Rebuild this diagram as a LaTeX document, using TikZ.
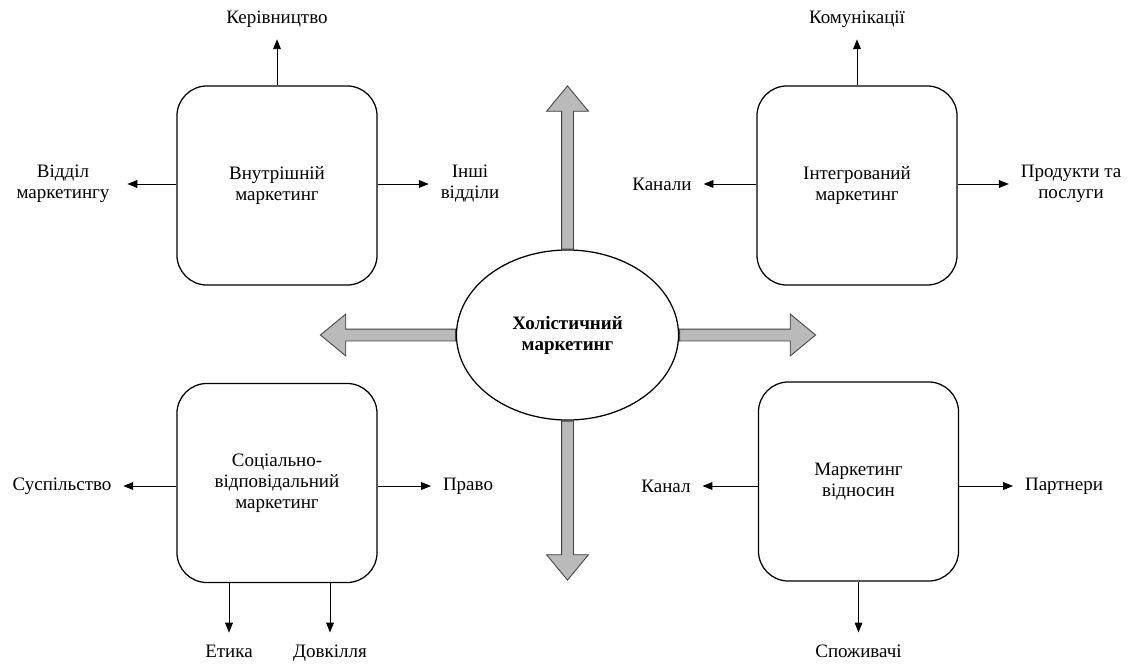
\documentclass[tikz,border=0pt]{standalone}
\usepackage{fontspec}
\setmainfont{Liberation Serif}
\usetikzlibrary{shapes.geometric,shapes.arrows,arrows.meta}

\begin{document}
\begin{tikzpicture}[x=0.025cm,y=-0.025cm,line width=0.6pt,
  font=\fontsize{13.5}{15}\selectfont,
  box/.style={draw,line width=0.9pt,rounded corners=0.75cm,minimum width=5cm,minimum height=4.975cm,align=center,inner sep=0pt},
  hub/.style={draw,ellipse,line width=0.9pt,minimum width=5.55cm,minimum height=4.25cm,inner sep=0pt,align=center,font=\fontsize{13.5}{15}\selectfont\bfseries},
  lbl/.style={align=center,inner sep=0pt,outer sep=0.3cm},
  pointer/.style={-{Triangle[length=7pt,width=5.5pt]}},
  fat/.style={single arrow,draw=black!75,fill=black!27,line width=0.6pt,inner xsep=0pt,inner ysep=0.1375cm,single arrow head extend=0.375cm,single arrow tip angle=79,anchor=tail}]
\useasboundingbox (0,0) rectangle (1129,664);

\node[hub] (hol) at (567.5,335) {Холістичний\\маркетинг}; % centre
\node[fat,rotate=90,minimum height=4.075cm] (fup) at (hol.north) {}; % up
\node[fat,rotate=-90,minimum height=3.975cm] (fdown) at (hol.south) {}; % down
\node[fat,rotate=180,minimum height=3.375cm] (fleft) at (hol.west) {}; % left
\node[fat,minimum height=3.4cm] (fright) at (hol.east) {}; % right

\node[box] (b1) at (277,185.5) {Внутрішній\\маркетинг}; % top left
\node[box] (b2) at (857,185.5) {Інтегрований\\маркетинг}; % top right
\node[box] (b3) at (277,483) {Соціально-\\відповідальний\\маркетинг}; % bottom left
\node[box] (b4) at (858.5,481.5) {Маркетинг\\відносин}; % bottom right

\node[lbl] (ker) at (277,19) {Керівництво};
\node[lbl,outer sep=0.45cm] (vm) at (63,184) {Відділ\\маркетингу};
\node[lbl] (inshi) at (470,184) {Інші\\відділи};
\node[lbl] (kom) at (857,19) {Комунікації};
\node[lbl] (kanaly) at (662,184) {Канали};
\node[lbl] (prod) at (1071,184) {Продукти та\\послуги};
\node[lbl] (susp) at (62,486) {Суспільство};
\node[lbl] (pravo) at (468,486) {Право};
\node[lbl,anchor=base] (etyka) at (229,657) {Етика};
\node[lbl,anchor=base] (dovk) at (330,657) {Довкілля};
\node[lbl] (kanal) at (666,486) {Канал};
\node[lbl] (partn) at (1064,486) {Партнери};
\node[lbl,anchor=base] (spoz) at (858.5,657) {Споживачі};

\draw[pointer] (b1.north) -- (ker); % D1
\draw[pointer] (b1.west |- vm) -- (vm);
\draw[pointer] (b1.east |- inshi) -- (inshi);
\draw[pointer] (b2.north) -- (kom); % D2
\draw[pointer] (b2.west |- kanaly) -- (kanaly);
\draw[pointer] (b2.east |- prod) -- (prod);
\draw[pointer] (b3.west |- susp) -- (susp); % D3
\draw[pointer] (b3.east |- pravo) -- (pravo);
\draw[pointer] (etyka |- b3.south) -- (etyka);
\draw[pointer] (dovk |- b3.south) -- (dovk);
\draw[pointer] (b4.west |- kanal) -- (kanal); % D4
\draw[pointer] (b4.east |- partn) -- (partn);
\draw[pointer] (b4.south) -- (spoz);
\end{tikzpicture}
\end{document}
